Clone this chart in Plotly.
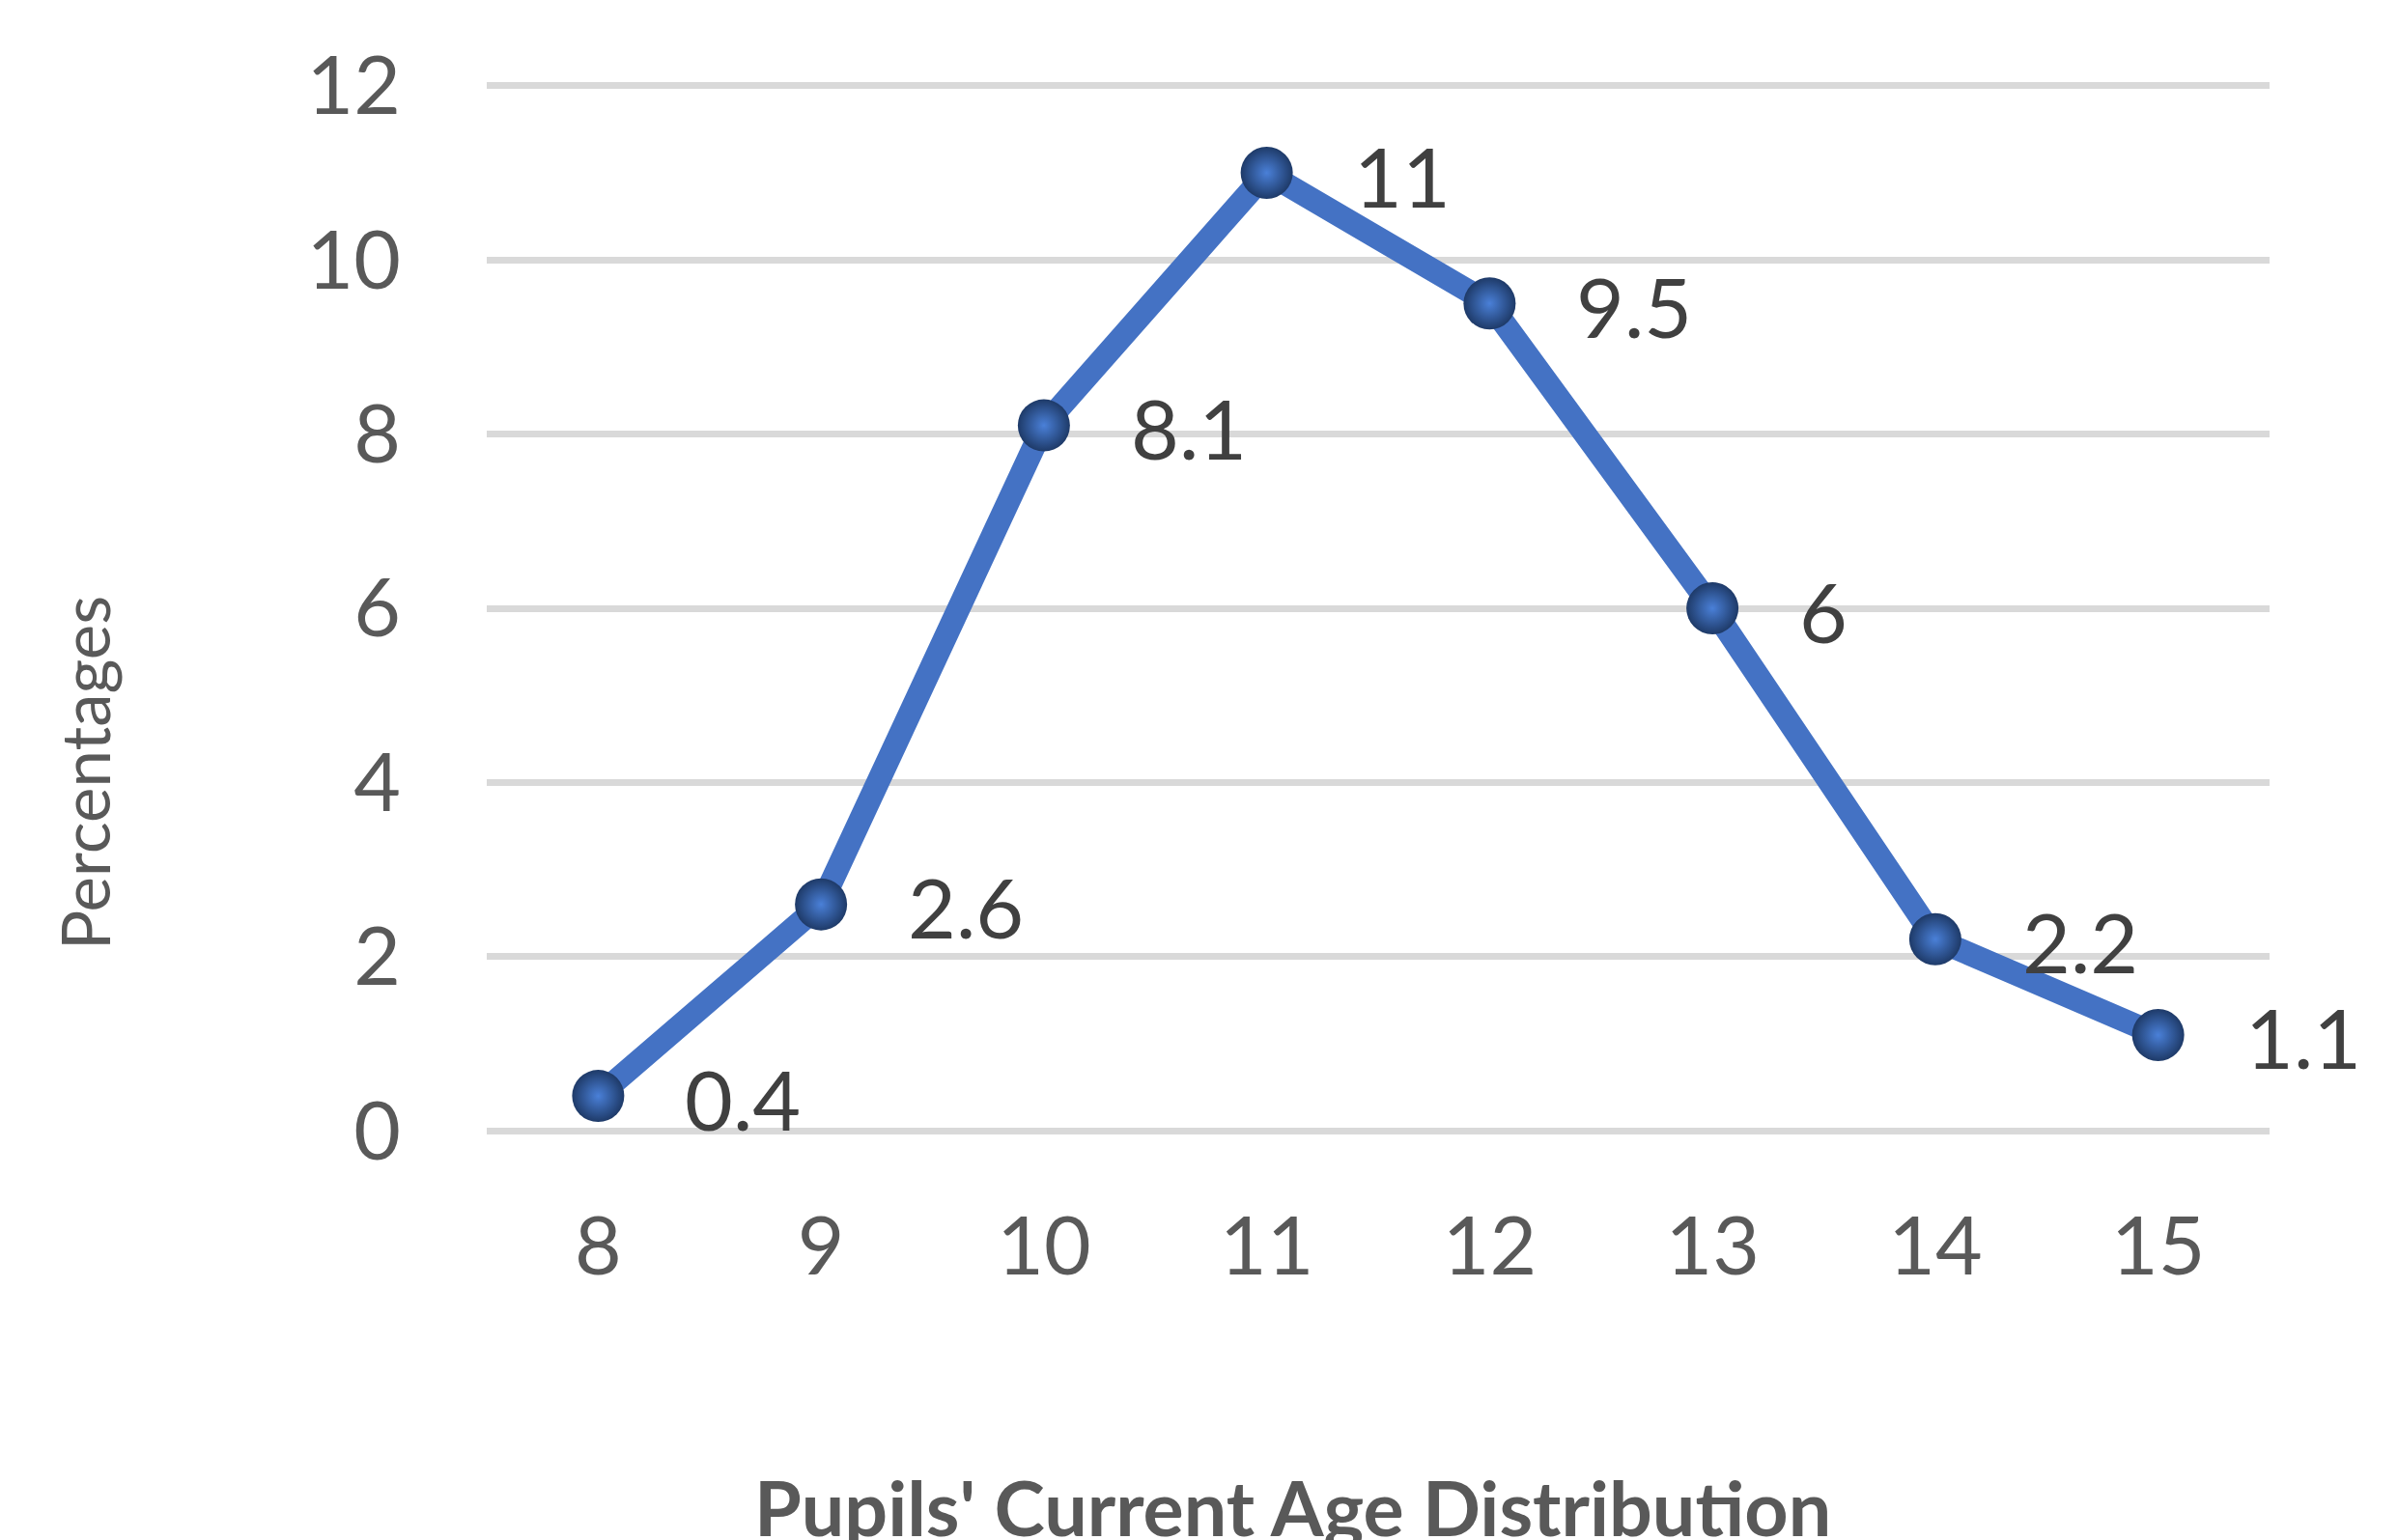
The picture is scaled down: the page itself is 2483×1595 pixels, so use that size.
import plotly.graph_objects as go

ages = ["8", "9", "10", "11", "12", "13", "14", "15"]
percentages = [0.4, 2.6, 8.1, 11, 9.5, 6, 2.2, 1.1]
y_ticks = [0, 2, 4, 6, 8, 10, 12]

FONT = "Lato, 'Open Sans', sans-serif"
W, H = 2483, 1595
L, R, T, B = 504, 133, 87, 422
PW, PH = W - L - R, H - T - B

fig = go.Figure()
fig.add_trace(go.Scatter(
    x=ages, y=percentages, mode="lines+markers",
    line=dict(color="#4472c4", width=24),
    marker=dict(size=54, color="#1e3a68",
                gradient=dict(type="radial", color="#4a80d8"),
                line=dict(width=0)),
    hoverinfo="skip", showlegend=False,
))

for i, v in enumerate(percentages):
    fig.add_annotation(x=i, y=v, xref="x", yref="y", text=f"{v:g}",
                       showarrow=False, xanchor="left", yanchor="middle",
                       xshift=88, yshift=-2,
                       font=dict(family=FONT, size=86, color="#404040"))

fig.add_annotation(text="<b>Pupils' Current Age Distribution</b>",
                   xref="paper", yref="paper", x=(1338 - L) / PW,
                   y=(T + PH - 1560) / PH, xanchor="center", yanchor="middle",
                   showarrow=False, font=dict(family=FONT, size=79, color="#595959"))

fig.add_annotation(text="Percentages", textangle=-90,
                   xref="paper", yref="paper", x=(87 - L) / PW,
                   y=(T + PH - 801) / PH, xanchor="center", yanchor="middle",
                   showarrow=False, font=dict(family=FONT, size=69, color="#595959"))

fig.update_layout(
    width=W, height=H,
    margin=dict(l=L, r=R, t=T, b=B, pad=0),
    paper_bgcolor="white", plot_bgcolor="white",
    xaxis=dict(type="category", range=[-0.5, 7.5], showgrid=False, zeroline=False,
               showline=False, ticks="", ticklabelstandoff=62,
               tickfont=dict(family=FONT, size=84, color="#595959")),
    yaxis=dict(range=[-0.02, 12.02], tickvals=y_ticks, showgrid=True,
               gridcolor="#d9d9d9", gridwidth=7, zeroline=False, showline=False,
               ticks="", ticklabelstandoff=88,
               tickfont=dict(family=FONT, size=84, color="#595959")),
)

fig.write_html("out.html")
